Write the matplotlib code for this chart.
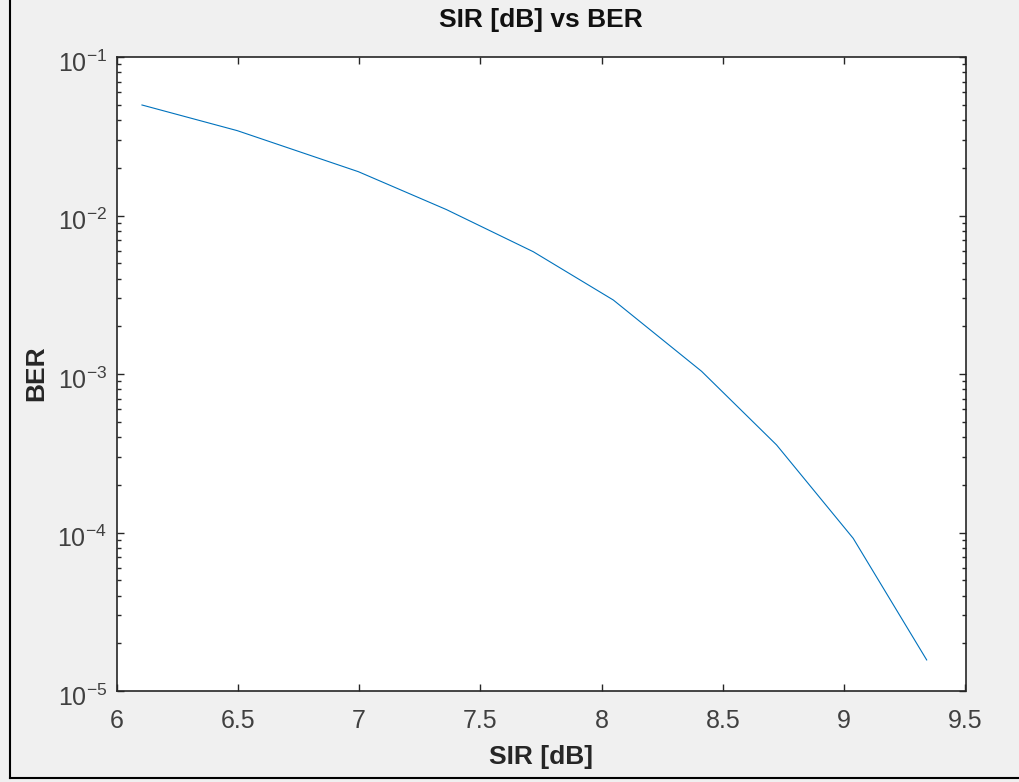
"""SIR [dB] vs BER curve, MATLAB-style figure."""

import matplotlib

matplotlib.use("Agg")

import matplotlib.pyplot as plt
import matplotlib.transforms as mtransforms
from matplotlib.lines import Line2D
from matplotlib.ticker import LogLocator, FixedLocator

plt.rcParams["font.family"] = ["Liberation Sans", "DejaVu Sans"]
plt.rcParams["mathtext.fontset"] = "custom"
plt.rcParams["mathtext.rm"] = "Liberation Sans"
plt.rcParams["mathtext.it"] = "Liberation Sans"
plt.rcParams["mathtext.bf"] = "Liberation Sans:bold"

sir_db = [6.105, 6.498, 6.997, 7.36, 7.718, 8.048, 8.412, 8.721, 9.037, 9.340]
ber = [4.98e-2, 3.43e-2, 1.89e-2, 1.09e-2, 5.91e-3, 2.93e-3, 1.04e-3, 3.57e-4, 9.19e-5, 1.57e-5]

x_ticks = [6, 6.5, 7, 7.5, 8, 8.5, 9, 9.5]
x_tick_labels = ["6", "6.5", "7", "7.5", "8", "8.5", "9", "9.5"]
y_ticks = [1e-5, 1e-4, 1e-3, 1e-2, 1e-1]
y_tick_labels = ["$10^{-5}$", "$10^{-4}$", "$10^{-3}$", "$10^{-2}$", "$10^{-1}$"]

W, H = 1019, 782
axis_color = "#262626"
label_color = "#404040"

fig = plt.figure(figsize=(W / 100, H / 100), dpi=100, facecolor="#f0f0f0")
ax = fig.add_axes([116.5 / W, 1 - 691 / H, (965.5 - 116.5) / W, (691 - 57) / H])
ax.set_facecolor("white")

ax.plot(sir_db, ber, color="#0072bd", linewidth=0.8)

ax.set_yscale("log")
ax.set_xlim(6, 9.5)
ax.set_ylim(1e-5, 1e-1)
ax.xaxis.set_major_locator(FixedLocator(x_ticks))
ax.set_xticklabels(x_tick_labels)
ax.set_yticks(y_ticks)
ax.set_yticklabels(y_tick_labels)
ax.yaxis.set_minor_locator(LogLocator(base=10, subs=range(2, 10)))
ax.yaxis.set_minor_formatter(plt.NullFormatter())

ax.tick_params(axis="both", which="both", direction="in", top=True, right=True,
               color=axis_color, labelcolor=label_color, labelsize=18, width=1.0)
ax.tick_params(axis="x", which="major", length=5, pad=13)
ax.tick_params(axis="y", which="major", length=5, pad=7)
ax.tick_params(axis="y", which="minor", length=3)
for spine in ax.spines.values():
    spine.set_color(axis_color)
    spine.set_linewidth(1.2)

# MATLAB puts the "10" slightly below the tick, nudge y labels down a bit
shift = mtransforms.ScaledTranslation(0, -3 / 72, fig.dpi_scale_trans)
for tick in ax.yaxis.get_major_ticks():
    tick.label1.set_transform(tick.label1.get_transform() + shift)

fig.text(0.5 * (116.5 + 965.5) / W, 1 - 20 / H, "SIR [dB] vs BER", ha="center", va="center",
         fontsize=19, fontweight="bold", color="#111111")
fig.text(0.5 * (116.5 + 965.5) / W, 1 - 757 / H, "SIR [dB]", ha="center", va="center",
         fontsize=19, fontweight="bold", color=axis_color)
fig.text(36 / W, 1 - 373 / H, "BER", ha="center", va="center", rotation=90,
         fontsize=19, fontweight="bold", color=axis_color)

# screenshot frame on the left and bottom
fig.add_artist(Line2D([9.5 / W, 9.5 / W], [1 - 778 / H, 1.0], transform=fig.transFigure,
                      color="black", linewidth=1.5))
fig.add_artist(Line2D([9.5 / W, 1.0], [1 - 778 / H, 1 - 778 / H], transform=fig.transFigure,
                      color="black", linewidth=1.5))

fig.savefig("out.png", dpi=100, facecolor=fig.get_facecolor())
